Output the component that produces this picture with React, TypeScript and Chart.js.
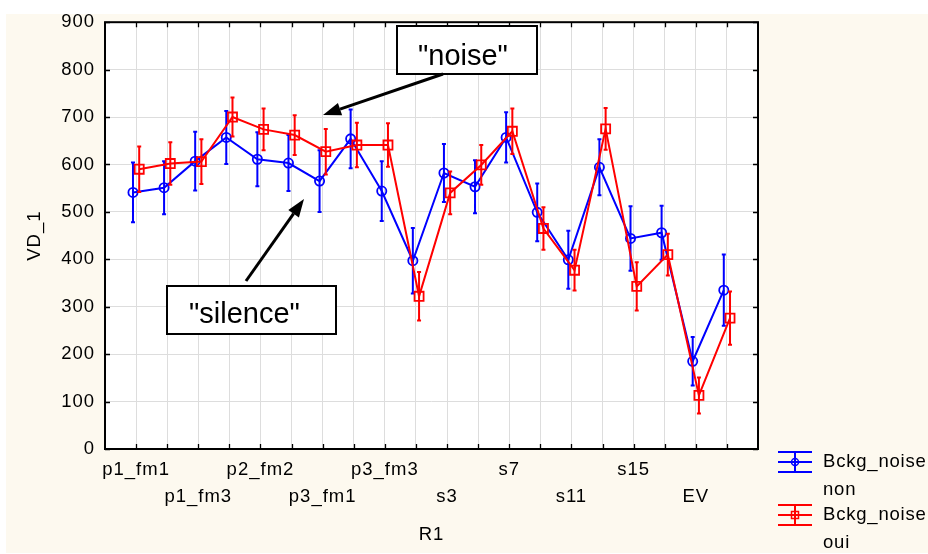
import React, { useEffect, useRef } from 'react';
import { Chart, registerables } from 'chart.js';

Chart.register(...registerables);

// ---------- data ----------
const categories = [
  'p1_fm1', 'p1_fm2', 'p1_fm3', 'p2_fm1', 'p2_fm2', 'p2_fm3', 'p3_fm1', 'p3_fm2', 'p3_fm3',
  's1', 's3', 's5', 's7', 's9', 's11', 's13', 's15', 's17', 'EV', 'EV2',
];
const nonMeans = [541, 551, 607, 657, 611, 603, 565, 654, 544, 397, 582, 553, 657, 499, 399, 594, 444, 456, 185, 335];
const nonErr = [63, 56, 62, 56, 57, 59, 65, 62, 63, 69, 61, 56, 53, 61, 61, 59, 68, 57, 51, 75];
const ouiMeans = [590, 602, 606, 700, 674, 662, 627, 641, 641, 322, 540, 599, 670, 465, 377, 675, 343, 410, 113, 276];
const ouiErr = [48, 45, 47, 41, 44, 42, 48, 47, 46, 51, 45, 42, 48, 45, 43, 44, 51, 44, 38, 56];
const yTicks = [0, 100, 200, 300, 400, 500, 600, 700, 800, 900];
const seriesNames = ['Bckg_noise\nnon', 'Bckg_noise\noui'];
const annotationTexts = ['"noise"', '"silence"'];
const axisTitles = { x: 'R1', y: 'VD_1' };

const BLUE = '#0000ff';
const RED = '#ff0000';
const FONT = "'Liberation Sans', Arial, sans-serif";
const FS = 18.5;
const CREAM = '#fdf9ef';

function arrow(ctx: CanvasRenderingContext2D, x1: number, y1: number, x2: number, y2: number) {
  const ang = Math.atan2(y2 - y1, x2 - x1);
  const len = 18, hw = 6.5;
  const bx = x2 - Math.cos(ang) * len;
  const by = y2 - Math.sin(ang) * len;
  ctx.beginPath();
  ctx.moveTo(x1, y1);
  ctx.lineTo(bx, by);
  ctx.lineWidth = 3;
  ctx.strokeStyle = '#000';
  ctx.stroke();
  ctx.beginPath();
  ctx.moveTo(x2, y2);
  ctx.lineTo(bx + Math.sin(ang) * hw, by - Math.cos(ang) * hw);
  ctx.lineTo(bx - Math.sin(ang) * hw, by + Math.cos(ang) * hw);
  ctx.closePath();
  ctx.fillStyle = '#000';
  ctx.fill();
}

const customPlugin = {
  id: 'custom',
  beforeLayout(chart: any) {
    chart.ctx.letterSpacing = '1px';
  },
  beforeDraw(chart: any) {
    const { ctx, chartArea } = chart;
    ctx.letterSpacing = '1px';
    ctx.save();
    ctx.fillStyle = '#ffffff';
    ctx.fillRect(chartArea.left, chartArea.top, chartArea.right - chartArea.left, chartArea.bottom - chartArea.top);
    ctx.restore();
  },
  beforeDatasetsDraw(chart: any) {
    const { ctx, chartArea: { left, right, top, bottom }, scales } = chart;
    ctx.save();
    ctx.strokeStyle = '#000';
    ctx.lineWidth = 1.3;
    ctx.beginPath();
    for (const v of yTicks) {
      const y = Math.round(scales.y.getPixelForValue(v)) + 0.5;
      ctx.moveTo(left, y); ctx.lineTo(left + 5, y);
      ctx.moveTo(right, y); ctx.lineTo(right - 5, y);
    }
    for (let i = 0; i < categories.length; i++) {
      const x = Math.round(scales.x.getPixelForValue(i)) + 0.5;
      ctx.moveTo(x, top); ctx.lineTo(x, top + 5);
      ctx.moveTo(x, bottom); ctx.lineTo(x, bottom - 5);
    }
    ctx.stroke();
    ctx.lineWidth = 2;
    ctx.strokeRect(left, top, right - left, bottom - top);
    ctx.restore();
  },
  afterDatasetDraw(chart: any, args: any) {
    const { ctx, scales } = chart;
    const idx = args.index;
    const means = idx === 0 ? nonMeans : ouiMeans;
    const errs = idx === 0 ? nonErr : ouiErr;
    const color = idx === 0 ? BLUE : RED;
    ctx.save();
    ctx.strokeStyle = color;
    ctx.lineWidth = 2;
    ctx.beginPath();
    args.meta.data.forEach((el: any, i: number) => {
      const x = el.x;
      const yt = scales.y.getPixelForValue(means[i] + errs[i]);
      const yb = scales.y.getPixelForValue(means[i] - errs[i]);
      ctx.moveTo(x, yt); ctx.lineTo(x, yb);
      ctx.moveTo(x - 2, yt); ctx.lineTo(x + 2, yt);
      ctx.moveTo(x - 2, yb); ctx.lineTo(x + 2, yb);
    });
    ctx.stroke();
    ctx.restore();
  },
  afterDraw(chart: any) {
    const { ctx } = chart;
    ctx.save();
    ctx.letterSpacing = '0px';
    // annotation boxes
    ctx.fillStyle = '#fff';
    ctx.strokeStyle = '#000';
    ctx.lineWidth = 2;
    ctx.fillRect(391, 12, 140, 48);
    ctx.strokeRect(391, 12, 140, 48);
    ctx.fillRect(161, 272, 169, 48);
    ctx.strokeRect(161, 272, 169, 48);
    ctx.fillStyle = '#000';
    ctx.font = `29px ${FONT}`;
    ctx.textBaseline = 'alphabetic';
    ctx.textAlign = 'left';
    ctx.fillText(annotationTexts[0], 412, 51);
    ctx.fillText(annotationTexts[1], 183, 309);
    arrow(ctx, 437, 60, 317, 101);
    arrow(ctx, 240, 267, 298, 185);

    // legend
    const items = [
      { color: BLUE, y: 448, style: 'circle', text: seriesNames[0] },
      { color: RED, y: 501, style: 'rect', text: seriesNames[1] },
    ];
    for (const it of items) {
      ctx.strokeStyle = it.color;
      ctx.lineWidth = 2;
      ctx.beginPath();
      for (const dy of [-10, 0, 10]) {
        ctx.moveTo(772, it.y + dy); ctx.lineTo(806, it.y + dy);
      }
      ctx.moveTo(789, it.y - 10); ctx.lineTo(789, it.y + 10);
      ctx.stroke();
      ctx.lineWidth = 1.5;
      ctx.beginPath();
      if (it.style === 'circle') ctx.arc(789, it.y, 3.5, 0, Math.PI * 2);
      else ctx.rect(785.5, it.y - 3.5, 7, 7);
      ctx.stroke();
      ctx.fillStyle = '#000';
      ctx.font = `${FS}px ${FONT}`;
      ctx.letterSpacing = '0.8px';
      ctx.textBaseline = 'middle';
      const lines = it.text.split('\n');
      lines.forEach((l, k) => ctx.fillText(l, 817, it.y + k * 28));
      ctx.letterSpacing = '0px';
    }
    ctx.restore();
  },
};

export default function App() {
  const ref = useRef<HTMLCanvasElement | null>(null);
  useEffect(() => {
    if (!ref.current) return;
    const chart = new Chart(ref.current, {
      type: 'line',
      data: {
        datasets: [
          {
            label: seriesNames[0],
            data: nonMeans.map((v, i) => ({ x: i - 0.1, y: v })),
            borderColor: BLUE,
            backgroundColor: 'rgba(0,0,0,0)',
            borderWidth: 2,
            pointStyle: 'circle',
            pointRadius: 4.6,
            pointBorderWidth: 1.8,
            pointBorderColor: BLUE,
            pointBackgroundColor: 'rgba(0,0,0,0)',
            order: 2,
            tension: 0,
          },
          {
            label: seriesNames[1],
            data: ouiMeans.map((v, i) => ({ x: i + 0.1, y: v })),
            borderColor: RED,
            backgroundColor: 'rgba(0,0,0,0)',
            borderWidth: 2,
            pointStyle: 'rect',
            pointRadius: 6.4,
            pointBorderWidth: 1.8,
            pointBorderColor: RED,
            pointBackgroundColor: 'rgba(0,0,0,0)',
            order: 1,
            tension: 0,
          },
        ],
      },
      options: {
        animation: false,
        responsive: true,
        maintainAspectRatio: false,
        layout: { padding: { left: 0, top: 5, right: 170, bottom: 0 } },
        plugins: { legend: { display: false }, tooltip: { enabled: false } },
        scales: {
          x: {
            type: 'linear',
            min: -1,
            max: 20,
            afterFit: (s: any) => { s.height = 104; s.paddingLeft = 0; s.paddingRight = 0; },
            grid: { color: '#dddddd', lineWidth: 1, drawTicks: false },
            border: { display: false },
            ticks: {
              stepSize: 1,
              autoSkip: false,
              maxRotation: 0,
              padding: 7.6,
              color: '#000',
              font: { family: FONT, size: FS, lineHeight: 1.45 },
              callback: (value: any) => {
                const i = Number(value);
                if (i < 0 || i >= categories.length || i % 2 !== 0) return '';
                return i % 4 === 0 ? categories[i] : ['', categories[i]];
              },
            },
            title: {
              display: true,
              text: axisTitles.x,
              color: '#000',
              font: { family: FONT, size: FS },
              padding: { top: 0, bottom: 7 },
            },
          },
          y: {
            min: 0,
            max: 900,
            afterFit: (s: any) => { s.width = 99; s.paddingTop = 0; s.paddingBottom = 0; },
            grid: { color: '#dddddd', lineWidth: 1, drawTicks: false },
            border: { display: false },
            ticks: {
              stepSize: 100,
              padding: 10,
              color: '#000',
              font: { family: FONT, size: FS },
            },
            title: {
              display: true,
              text: axisTitles.y,
              color: '#000',
              font: { family: FONT, size: FS },
              padding: { top: 18, bottom: 0 },
            },
          },
        },
      },
      plugins: [customPlugin],
    } as any);
    return () => chart.destroy();
  }, []);

  return (
    <div style={{ position: 'absolute', left: 6, top: 14, width: 922, height: 539 }}>
      <canvas ref={ref} style={{ background: CREAM }} />
    </div>
  );
}
